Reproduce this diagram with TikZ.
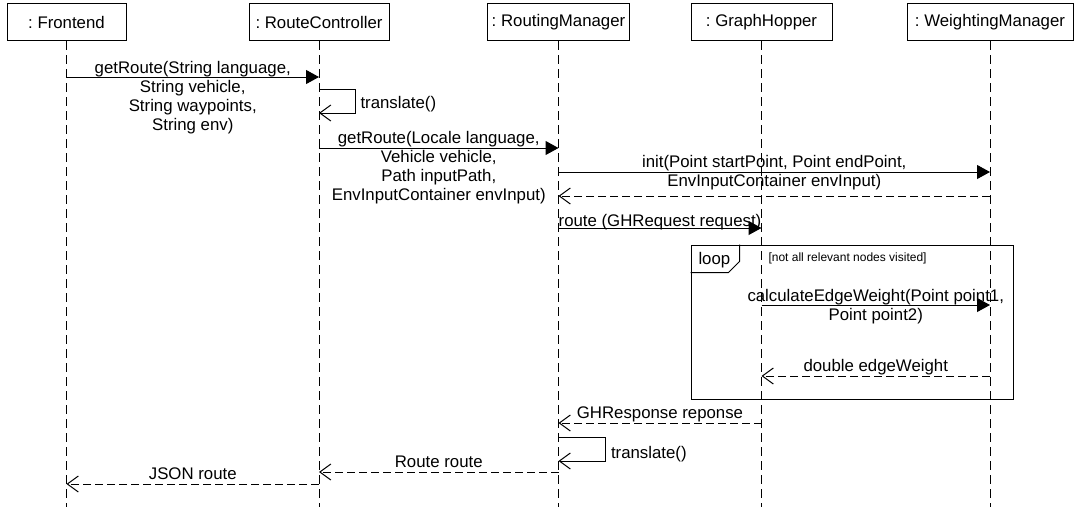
\documentclass[tikz,border=0pt]{standalone}
\usepackage{fontspec}
\setmainfont{Liberation Sans}
\usetikzlibrary{arrows.meta, calc}
\frenchspacing

\begin{document}
\begin{tikzpicture}[
        x=1pt, y=-1pt,
        line width=1pt,
        font=\fontsize{16.8}{19}\selectfont,
        obj/.style={rectangle, draw, minimum height=37pt, inner sep=0pt, anchor=north},
        lifeline/.style={dash pattern=on 9pt off 5pt},
        call/.style={-{Triangle[length=13pt, width=14pt]}},
        reply/.style={dash pattern=on 8pt off 4pt, -{Straight Barb[length=11pt, width=16pt]}},
        selfcall/.style={-{Straight Barb[length=11pt, width=16pt]}},
        msg/.style={align=center, inner sep=0pt, anchor=base, yshift=#1},
        msg/.default=4pt,
        selflbl/.style={pos=.25, anchor=west, inner sep=0pt, xshift=5pt, yshift=#1},
        guard/.style={inner sep=0pt, anchor=base west, font=\fontsize{12}{14}\selectfont}
    ]
        \useasboundingbox (0,0) rectangle (1078,507);
        \coordinate (bottom) at (0,507);

        % objects and their lifelines
        \node[obj, minimum width=119pt] (fe) at (66.5,3) {: Frontend};
        \node[obj, minimum width=140pt] (rc) at (319,3) {: RouteController};
        \node[obj, minimum width=142pt] (rm) at (558.5,3) {: RoutingManager};
        \node[obj, minimum width=141pt] (gh) at (761.5,3) {: GraphHopper};
        \node[obj, minimum width=166pt] (wm) at (990,3) {: WeightingManager};

        \draw[lifeline] (fe.south) -- (fe.south |- bottom);
        \draw[lifeline] (rc.south) -- (rc.south |- bottom);
        \draw[lifeline] (rm.south) -- (rm.south |- bottom);
        \draw[lifeline] (gh.south) -- (gh.south |- bottom);
        \draw[lifeline] (wm.south) -- (wm.south |- bottom);

        % message levels
        \coordinate (m1) at (0,77);
        \coordinate (t1a) at (0,89);
        \coordinate (t1b) at (0,113);
        \coordinate (m2) at (0,148);
        \coordinate (m3) at (0,172);
        \coordinate (r3) at (0,196);
        \coordinate (m4) at (0,228);
        \coordinate (m5) at (0,305);
        \coordinate (r5) at (0,376);
        \coordinate (r4) at (0,423);
        \coordinate (t2a) at (0,437);
        \coordinate (t2b) at (0,461);
        \coordinate (r2) at (0,472);
        \coordinate (r1) at (0,484);

        % messages
        \draw[call] (fe |- m1) -- node[msg=-53pt] {getRoute(String language,\\String vehicle,\\String waypoints,\\String env)} (rc |- m1);
        \draw[selfcall] (rc |- t1a) -- ++(36,0) |- node[selflbl=-3.5pt] {translate()} (rc |- t1b);
        \draw[call] (rc |- m2) -- node[msg=-52pt] {getRoute(Locale language,\\Vehicle vehicle,\\Path inputPath,\\EnvInputContainer envInput)} (rm |- m2);
        \draw[call] (rm |- m3) -- node[msg=-14pt] {init(Point startPoint, Point endPoint,\\EnvInputContainer envInput)} (wm |- m3);
        \draw[reply] (wm |- r3) -- (rm |- r3);
        \draw[call] (rm |- m4) -- node[msg=2pt] {route (GHRequest request)} (gh |- m4);

        % loop fragment
        \node[draw, inner sep=0pt, minimum width=322.5pt, minimum height=154.5pt, anchor=north west] (frame) at (690.5,244.5) {};
        \draw (frame.north west) ++(49,0) -- ++(0,17) -- ++(-11,11) -- ++(-38,0);
        \node[inner sep=0pt, anchor=base west] (looplbl) at (698,264) {loop};
        \node[guard] (cond) at (768,261) {[not all relevant nodes visited]};

        \draw[call] (gh |- m5) -- node[msg=-15pt] {calculateEdgeWeight(Point point1,\\Point point2)} (wm |- m5);
        \draw[reply] (wm |- r5) -- node[msg=5pt] {double edgeWeight} (gh |- r5);

        \draw[reply] (gh |- r4) -- node[msg=5pt] {GHResponse reponse} (rm |- r4);
        \draw[selfcall] (rm |- t2a) -- ++(47,0) |- node[selflbl=-5pt] {translate()} (rm |- t2b);
        \draw[reply] (rm |- r2) -- node[msg=5pt] {Route route} (rc |- r2);
        \draw[reply] (rc |- r1) -- node[msg=5pt] {JSON route} (fe |- r1);
    \end{tikzpicture}
\end{document}
